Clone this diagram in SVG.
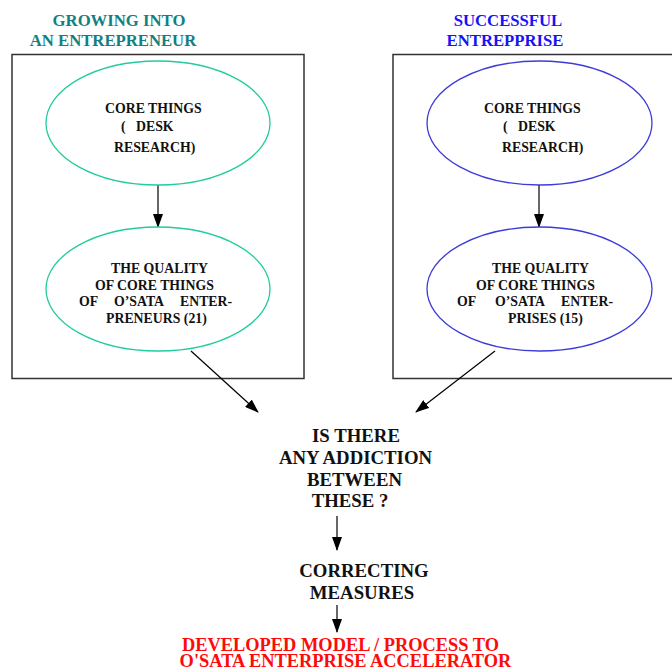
<svg xmlns="http://www.w3.org/2000/svg" width="672" height="671" viewBox="0 0 672 671">
<defs>
<marker id="ah" markerWidth="14" markerHeight="10" refX="13" refY="5" orient="auto" markerUnits="userSpaceOnUse">
<path d="M0,0 L14,5 L0,10 Z" fill="#000"/>
</marker>
<style>
text{font-family:"Liberation Serif","Times New Roman",serif;font-weight:bold;}
.t{font-size:16.7px;text-anchor:middle;}
.teal{fill:#128080;}
.blue{fill:#1414f5;}
.n{font-size:13.8px;fill:#111;}
.big{font-size:18.8px;fill:#111;text-anchor:middle;}
.red{font-size:18.4px;fill:#ff0a0a;text-anchor:middle;}
.box{fill:none;stroke:#333;stroke-width:1.5;}
.eg{fill:#fff;stroke:#22cc9e;stroke-width:1.3;}
.eb{fill:#fff;stroke:#3c3cd8;stroke-width:1.3;}
.c{stroke:#000;stroke-width:1.2;fill:none;marker-end:url(#ah);}
</style>
</defs>
<rect width="672" height="671" fill="#fff"/>
<g id="title-left">
<text class="t teal" x="119" y="26">GROWING INTO</text>
<text class="t teal" x="113" y="46">AN ENTREPRENEUR</text>
</g>
<g id="title-right">
<text class="t blue" x="508" y="26">SUCCESSFUL</text>
<text class="t blue" x="505" y="46">ENTREPPRISE</text>
</g>
<g id="box-left"><rect class="box" x="12" y="54.5" width="292" height="324"/></g>
<g id="box-right"><rect class="box" x="393" y="54.5" width="290" height="324"/></g>
<g id="connectors">
<line class="c" x1="158" y1="185" x2="158" y2="227"/>
<line class="c" x1="539" y1="185" x2="539" y2="227"/>
<line class="c" x1="191" y1="351" x2="258" y2="412"/>
<line class="c" x1="495" y1="351" x2="416" y2="412"/>
<line class="c" x1="337" y1="516" x2="337" y2="550"/>
<line class="c" x1="337" y1="605" x2="337" y2="632"/>
</g>
<g id="core-left">
<ellipse class="eg" cx="158" cy="123" rx="112" ry="62"/>
<text class="n" x="105" y="113">CORE THINGS</text>
<text class="n" x="121" y="131">(</text>
<text class="n" x="136" y="131">DESK</text>
<text class="n" x="114" y="152">RESEARCH)</text>
</g>
<g id="quality-left">
<ellipse class="eg" cx="158" cy="289" rx="112" ry="62"/>
<text class="n" x="111" y="273">THE QUALITY</text>
<text class="n" x="95" y="290">OF CORE THINGS</text>
<text class="n" x="79" y="306">OF</text>
<text class="n" x="114" y="306">O’SATA</text>
<text class="n" x="180" y="306">ENTER-</text>
<text class="n" x="106" y="323">PRENEURS (21)</text>
</g>
<g id="core-right">
<ellipse class="eb" cx="539.5" cy="123" rx="112.5" ry="62"/>
<text class="n" x="484" y="113">CORE THINGS</text>
<text class="n" x="503" y="131">(</text>
<text class="n" x="518" y="131">DESK</text>
<text class="n" x="502" y="152">RESEARCH)</text>
</g>
<g id="quality-right">
<ellipse class="eb" cx="539.5" cy="289" rx="112.5" ry="62"/>
<text class="n" x="492" y="273">THE QUALITY</text>
<text class="n" x="476" y="290">OF CORE THINGS</text>
<text class="n" x="457" y="306">OF</text>
<text class="n" x="495" y="306">O’SATA</text>
<text class="n" x="561" y="306">ENTER-</text>
<text class="n" x="508" y="323">PRISES (15)</text>
</g>
<g id="question">
<text class="big" x="356" y="442">IS THERE</text>
<text class="big" x="355.5" y="464">ANY ADDICTION</text>
<text class="big" x="354.5" y="486">BETWEEN</text>
<text class="big" x="350" y="507">THESE ?</text>
</g>
<g id="correcting">
<text class="big" x="364" y="577">CORRECTING</text>
<text class="big" x="362" y="599">MEASURES</text>
</g>
<g id="result">
<text class="red" x="340.5" y="651">DEVELOPED MODEL / PROCESS TO</text>
<text class="red" x="345.5" y="667">O'SATA ENTERPRISE ACCELERATOR</text>
</g>
</svg>
